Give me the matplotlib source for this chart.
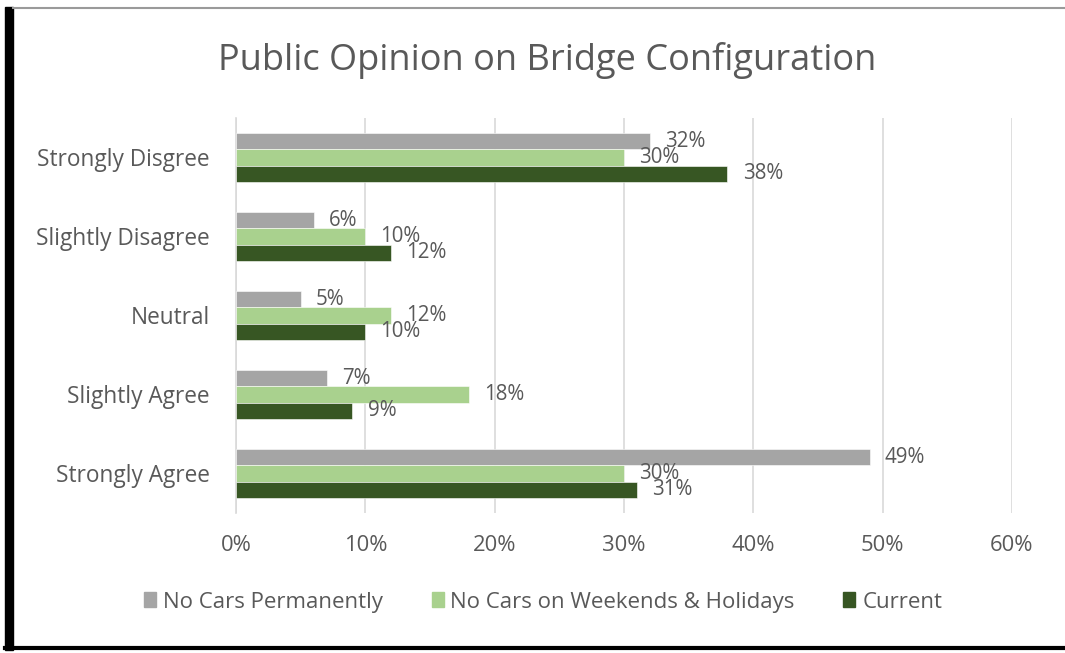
import matplotlib.pyplot as plt
from matplotlib.patches import Rectangle
from matplotlib.lines import Line2D

categories = ["Strongly Disgree", "Slightly Disagree", "Neutral", "Slightly Agree", "Strongly Agree"]
no_cars_permanently = [32, 6, 5, 7, 49]
no_cars_weekends = [30, 10, 12, 18, 30]
current = [38, 12, 10, 9, 31]
series_names = ["No Cars Permanently", "No Cars on Weekends & Holidays", "Current"]
colors = ["#A5A5A5", "#A9D18E", "#375623"]
xticks = [0, 10, 20, 30, 40, 50, 60]

text_color = "#595959"
plt.rcParams['font.family'] = ['Open Sans', 'DejaVu Sans']

fig = plt.figure(figsize=(10.65, 6.53), dpi=100)
ax = fig.add_axes([0.2216, 0.2144, 0.7286, 0.6049])

h = 0.62 / 3
series = [no_cars_permanently, no_cars_weekends, current]
for k, (vals, name, col) in enumerate(zip(series, series_names, colors)):
    ys = [i + (k - 1) * h for i in range(len(categories))]
    ax.barh(ys, vals, height=h, color=col, edgecolor="white", linewidth=0.4,
            label=name, zorder=3)
    for y, v in zip(ys, vals):
        ax.annotate(f"{v}%", (v, y), xytext=(11, 0), textcoords="offset points",
                    ha="left", va="center", fontsize=14.8, color=text_color, zorder=4)

ax.set_ylim(len(categories) - 0.5, -0.5)
ax.set_xlim(0, 60)
ax.set_yticks(range(len(categories)))
ax.set_yticklabels(categories, fontsize=16.3, color=text_color)
ax.set_xticks(xticks)
ax.set_xticklabels([f"{t}%" for t in xticks], fontsize=15.8, color=text_color)
ax.tick_params(axis="both", length=0)
ax.tick_params(axis="x", pad=16)
ax.tick_params(axis="y", pad=19)
ax.grid(axis="x", color="#D9D9D9", linewidth=1.2, zorder=0)
for s in ["top", "right", "bottom"]:
    ax.spines[s].set_visible(False)
ax.spines["left"].set_color("#D9D9D9")
ax.spines["left"].set_linewidth(1.2)

fig.text(0.514, 0.908, "Public Opinion on Bridge Configuration", ha="center", va="center",
         fontsize=26, color=text_color)

handles = [Rectangle((0, 0), 1, 1, color=c) for c in colors]
fig.legend(handles, series_names, loc="center", bbox_to_anchor=(0.51, 0.078), ncol=3,
           frameon=False, fontsize=16, labelcolor=text_color, handlelength=0.54,
           handleheight=0.68, handletextpad=0.3, columnspacing=2.2)

# screenshot frame
fig.add_artist(Line2D([0.012, 1.0], [0.988, 0.988], color="#9A9A9A", linewidth=1.5))
fig.add_artist(Rectangle((0.005, 0.005), 0.0075, 0.985, color="black", transform=fig.transFigure))
fig.add_artist(Line2D([0.005, 1.0], [0.008, 0.008], color="black", linewidth=3))

fig.savefig("out.png", dpi=100)
